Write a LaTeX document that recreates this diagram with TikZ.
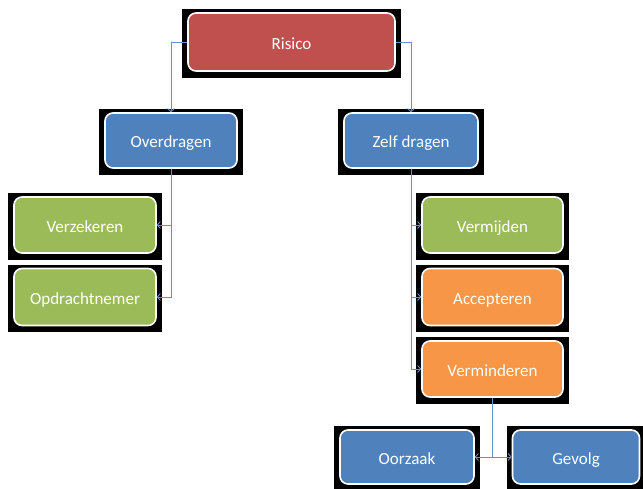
\documentclass[tikz,border=0pt]{standalone}
\usepackage{fontspec}
\setmainfont{Carlito}
\usetikzlibrary{arrows.meta,backgrounds}
\definecolor{cred}{RGB}{192,80,77}
\definecolor{cblue}{RGB}{79,129,189}
\definecolor{cgreen}{RGB}{155,187,89}
\definecolor{corange}{RGB}{247,150,70}
\definecolor{cline}{RGB}{100,145,205}
\tikzset{
  boxstyle/.style={rounded corners=8pt, draw=white, line width=1.6pt, text=white,
    font=\fontsize{17}{20}\selectfont, inner sep=0pt, align=center,
    text height=14pt, text depth=0pt},
  conn/.style={draw=cline, line width=0.9pt, -{Straight Barb[length=3pt,width=7pt]}},
  shade/.style={fill=black}
}
\newcommand\blackbehind[1]{%
  \begin{scope}[on background layer]
    \fill[shade] ([shift={(-5,-3)}]#1.north west) rectangle ([shift={(5,6)}]#1.south east);
  \end{scope}}
\begin{document}
\begin{tikzpicture}[x=1pt,y=-1pt]
\begin{scope}[on background layer]
  \fill[white] (0,0) rectangle (643,488);
\end{scope}
\useasboundingbox (0,0) rectangle (643,488);
\node[boxstyle, fill=cred, minimum width=207pt, minimum height=58pt] (ris) at (291.5,42) {Risico};
\node[boxstyle, fill=cblue, minimum width=132pt, minimum height=55pt] (ov) at (171,140.5) {Overdragen};
\node[boxstyle, fill=cblue, minimum width=134pt, minimum height=55pt] (zd) at (411,140.5) {Zelf dragen};
\node[boxstyle, fill=cgreen, minimum width=142pt, minimum height=56pt] (verz) at (85,225) {Verzekeren};
\node[boxstyle, fill=cgreen, minimum width=142pt, minimum height=57pt] (opd) at (85,297) {Opdrachtnemer};
\node[boxstyle, fill=cgreen, minimum width=141pt, minimum height=56pt] (vmij) at (492.5,225) {Vermijden};
\node[boxstyle, fill=corange, minimum width=141pt, minimum height=57pt] (acc) at (492.5,297) {Accepteren};
\node[boxstyle, fill=corange, minimum width=141pt, minimum height=56pt] (vmin) at (492.5,369) {Verminderen};
\node[boxstyle, fill=cblue, minimum width=134pt, minimum height=54pt] (oorz) at (407,457) {Oorzaak};
\node[boxstyle, fill=cblue, minimum width=127pt, minimum height=54pt] (gev) at (576,457) {Gevolg};
\blackbehind{ris}
\blackbehind{ov}
\blackbehind{zd}
\blackbehind{verz}
\blackbehind{opd}
\blackbehind{vmij}
\blackbehind{acc}
\blackbehind{vmin}
\blackbehind{oorz}
\blackbehind{gev}
\draw[conn] (ris.west) -| (ov.north);
\draw[conn] (ris.east) -| (zd.north);
\draw[conn] (ov.south) |- (verz.east);
\draw[conn] (ov.south) |- (opd.east);
\draw[conn] (zd.south) |- (vmij.west);
\draw[conn] (zd.south) |- (acc.west);
\draw[conn] (zd.south) |- (vmin.west);
\draw[conn] (vmin.south) |- (oorz.east);
\draw[conn] (vmin.south) |- (gev.west);
\end{tikzpicture}
\end{document}
